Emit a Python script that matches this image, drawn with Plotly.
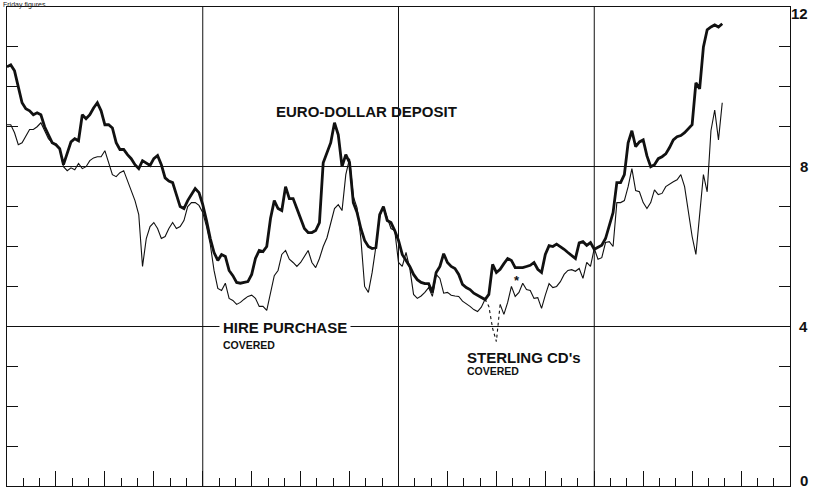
import plotly.graph_objects as go

# ---- data (weekly Friday figures, per cent) ----
WEEKS = list(range(191))

EURO_DOLLAR = [
    10.5, 10.55, 10.4, 10.0, 9.6, 9.45, 9.4, 9.3, 9.35, 9.3,
    9.0, 8.8, 8.6, 8.55, 8.45, 8.05, 8.35, 8.62, 8.7, 8.65,
    9.3, 9.2, 9.3, 9.47, 9.6, 9.4, 9.05, 9.05, 8.97, 8.6,
    8.43, 8.43, 8.3, 8.2, 8.05, 7.95, 8.15, 8.1, 8.03, 8.2,
    8.28, 8.05, 7.72, 7.64, 7.6, 7.3, 7.0, 6.95, 7.15, 7.3,
    7.45, 7.35, 7.05, 6.65, 6.2, 5.85, 5.65, 5.8, 5.75, 5.4,
    5.27, 5.1, 5.08, 5.1, 5.12, 5.3, 5.7, 5.9, 5.87, 6.0,
    6.7, 7.15, 6.95, 6.9, 7.5, 7.2, 7.2, 6.95, 6.7, 6.45,
    6.35, 6.35, 6.4, 6.6, 8.1, 8.35, 8.6, 9.1, 8.8, 8.0,
    8.3, 8.1, 7.1, 6.85, 6.45, 6.15, 6.0, 5.95, 5.97, 6.8,
    7.0, 6.65, 6.6, 6.4, 6.15, 5.8, 5.65, 5.5, 5.3, 5.17,
    5.1, 5.07, 5.07, 4.85, 5.35, 5.5, 5.82, 5.6, 5.5, 5.45,
    5.3, 5.05, 4.97, 4.92, 4.83, 4.78, 4.73, 4.67, 4.8, 5.55,
    5.35, 5.43, 5.57, 5.7, 5.65, 5.47, 5.47, 5.47, 5.5, 5.53,
    5.6, 5.43, 5.35, 5.8, 6.02, 6.0, 6.06, 6.0, 5.93, 5.85,
    5.78, 5.7, 6.09, 6.12, 6.03, 6.1, 5.93, 5.97, 6.03, 6.2,
    6.5, 6.85, 7.6, 7.6, 7.8, 8.6, 8.9, 8.5, 8.62, 8.67,
    8.27, 8.0, 8.05, 8.2, 8.25, 8.32, 8.48, 8.67, 8.75, 8.78,
    8.85, 8.95, 9.05, 10.1, 9.95, 11.0, 11.43, 11.5, 11.55, 11.5,
    11.58,
]

# hire purchase (covered) to week ~104, sterling CD's (covered) afterwards
COVERED = [
    9.05, 9.05, 8.85, 8.55, 8.6, 8.78, 8.93, 8.93, 9.0, 9.1,
    8.9, 8.7, 8.6, 8.57, 8.45, 8.0, 7.9, 7.97, 7.92, 8.08,
    7.95, 8.0, 8.15, 8.22, 8.25, 8.25, 8.4, 8.1, 7.8, 7.75,
    7.85, 7.9, 7.65, 7.45, 7.15, 6.8, 5.5, 6.2, 6.5, 6.6,
    6.45, 6.2, 6.25, 6.45, 6.6, 6.45, 6.5, 6.65, 7.0, 7.1,
    7.1, 7.03, 6.85, 6.5, 6.05, 5.4, 4.95, 4.9, 5.08, 4.7,
    4.65, 4.55, 4.6, 4.68, 4.75, 4.78, 4.7, 4.5, 4.5, 4.4,
    4.8, 5.27, 5.4, 5.8, 5.9, 5.68, 5.6, 5.5, 5.6, 5.76,
    5.9, 5.6, 5.47, 5.7, 6.0, 6.22, 6.6, 6.95, 7.05, 6.9,
    7.8, 8.2, 7.25, 6.97, 6.2, 5.0, 4.85, 5.35, 6.0, 6.75,
    7.0, 6.7, 6.45, 6.4, 5.6, 5.5, 5.85, 5.45, 4.8, 4.7,
    4.76, 4.85, 4.97, 4.75, 5.3, 5.2, 4.83, 4.85, 4.78, 4.76,
    4.75, 4.63, 4.57, 4.5, 4.42, 4.37, 4.48, 4.68, 4.5, 3.95,
    3.62, 4.55, 4.3, 4.6, 5.0, 4.75, 4.85, 5.08, 4.92, 4.9,
    4.7, 4.72, 4.45, 4.78, 5.07, 4.97, 5.0, 5.12, 5.3, 5.4,
    5.42, 5.38, 5.45, 5.2, 5.6, 5.5, 5.95, 5.68, 5.72, 6.1,
    6.12, 6.0, 7.1, 7.1, 7.15, 7.5, 7.95, 7.4, 7.37, 7.1,
    6.95, 7.1, 7.42, 7.3, 7.33, 7.5, 7.57, 7.62, 7.67, 7.8,
    7.5, 6.9, 6.25, 5.8, 6.9, 7.8, 7.37, 8.9, 9.42, 8.67,
    9.6,
]
DOTTED_WEEKS = (127, 131)          # broken (estimated) part of the covered line

YEAR_LINES = [52, 104, 156]
X_RANGE = [0, 208]
Y_LABELS = [12, 8, 4, 0]

LABELS = [
    # text, week, value, size, bold
    ("EURO-DOLLAR DEPOSIT", 70.4, 9.37, 15, True),
    ("HIRE PURCHASE", 56.3, 3.97, 15, True),
    ("COVERED", 56.3, 3.53, 10.5, True),
    ("STERLING CD's", 121.1, 3.23, 15, True),
    ("COVERED", 121.1, 2.88, 10.5, True),
]
STAR = ("*", 135.5, 5.16)

# ---- figure ----
INK = "#111111"
FONT = "Liberation Sans, Arial, sans-serif"

a, b = DOTTED_WEEKS
solid_vals = [v if (w <= a or w >= b) else None for w, v in zip(WEEKS, COVERED)]
dot_x = [w for w in WEEKS if a <= w <= b]
dot_y = [COVERED[w] for w in dot_x]

fig = go.Figure()
fig.add_trace(go.Scatter(x=WEEKS, y=solid_vals, mode="lines",
                         line=dict(color=INK, width=1.1), connectgaps=False,
                         hoverinfo="skip", showlegend=False))
fig.add_trace(go.Scatter(x=dot_x, y=dot_y, mode="lines",
                         line=dict(color=INK, width=1.1, dash="dot"),
                         hoverinfo="skip", showlegend=False))
fig.add_trace(go.Scatter(x=WEEKS, y=EURO_DOLLAR, mode="lines",
                         line=dict(color=INK, width=2.8),
                         hoverinfo="skip", showlegend=False))

for xv in YEAR_LINES:
    fig.add_shape(type="line", xref="x", yref="paper", x0=xv, x1=xv, y0=0, y1=1,
                  line=dict(color=INK, width=1), layer="below")

for text, xw, yv, size, bold in LABELS:
    fig.add_annotation(x=xw, y=yv, xref="x", yref="y", text=text, showarrow=False,
                       xanchor="left", yanchor="middle",
                       font=dict(family=FONT, size=size, color=INK,
                                 weight="bold" if bold else "normal"),
                       bgcolor="white" if text == "HIRE PURCHASE" else None,
                       borderpad=3)

fig.add_annotation(x=STAR[1], y=STAR[2], xref="x", yref="y", text=STAR[0],
                   showarrow=False, font=dict(family=FONT, size=13, color=INK, weight="bold"))

shifts = {12: -6, 0: 6}
for v in Y_LABELS:
    fig.add_annotation(x=1, y=v, xref="paper", yref="y", text=str(v), showarrow=False,
                       xanchor="right", yanchor="middle", xshift=20, yshift=shifts.get(v, 0),
                       font=dict(family=FONT, size=15, color=INK, weight="bold"))

fig.add_annotation(x=0, y=1, xref="paper", yref="paper", text="Friday figures",
                   showarrow=False, xanchor="left", yanchor="top", xshift=-5, yshift=7,
                   borderpad=0, font=dict(family=FONT, size=7, color="#222"))

fig.update_layout(
    width=816, height=488,
    margin=dict(l=7, r=26, t=7, b=2),
    paper_bgcolor="white", plot_bgcolor="white",
    xaxis=dict(range=X_RANGE, showgrid=False, zeroline=False,
               showline=True, linecolor=INK, linewidth=1.2, mirror=True,
               tick0=0, dtick=13, ticks="inside", ticklen=15, tickwidth=1, tickcolor=INK,
               showticklabels=False,
               minor=dict(dtick=13 / 3, ticks="inside", ticklen=8, tickwidth=1,
                          tickcolor=INK, showgrid=False)),
    yaxis=dict(range=[0, 12], showgrid=True, gridcolor=INK, gridwidth=1, zeroline=False,
               tick0=0, dtick=4, showline=True, linecolor=INK, linewidth=1.2, mirror="ticks",
               ticks="inside", ticklen=11, tickwidth=1, tickcolor=INK, showticklabels=False,
               minor=dict(dtick=1, ticks="inside", ticklen=11, tickwidth=1,
                          tickcolor=INK, showgrid=False)),
)

fig.write_html("out.html", config={"displayModeBar": False},
               post_script="document.body.style.margin='0px';")
